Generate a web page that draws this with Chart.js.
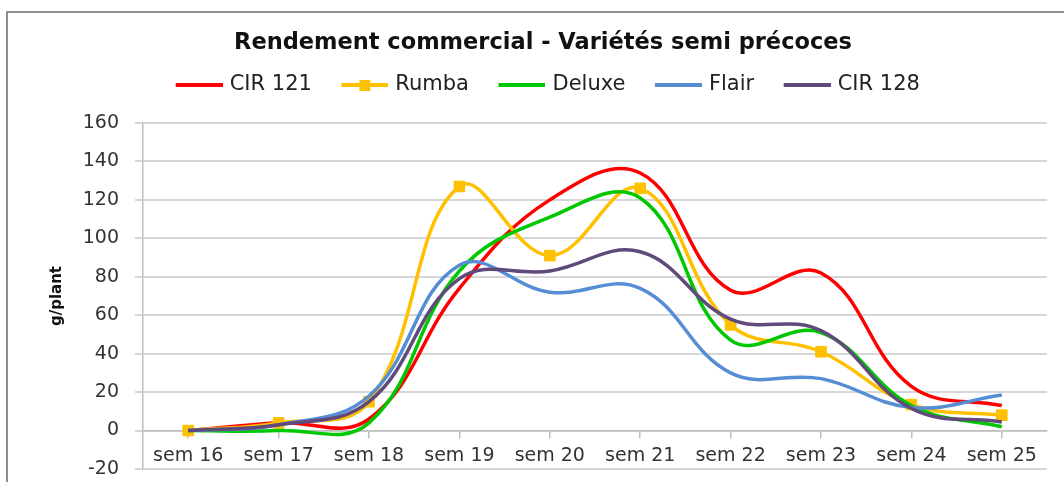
<!DOCTYPE html>
<html>
<head>
<meta charset="utf-8">
<script src="https://cdn.jsdelivr.net/npm/chart.js@4/dist/chart.umd.min.js"></script>
<style>
	html, body { margin: 0; padding: 0; background: #fff; overflow: hidden; }
	#wrap { position: relative; width: 1064px; height: 482px; overflow: hidden; }
	#frame { position: absolute; left: 6px; top: 11px; width: 1056px; height: 469px;
		border-left: 2px solid #8e8e8e; border-top: 2px solid #8e8e8e; }
	#myChart { position: absolute; left: 0; top: 0; }
</style>
</head>
<body>
<div id="wrap">
<div id="frame"></div>
<canvas id="myChart" width="1064" height="482"></canvas>
</div>
<script>
	var weeks = [ 'sem 16', 'sem 17', 'sem 18', 'sem 19', 'sem 20', 'sem 21', 'sem 22', 'sem 23', 'sem 24', 'sem 25' ];
	var cir121 = [ 0, 4, 6, 74, 120, 134, 73, 82, 23, 13 ];
	var rumba = [ 0, 4, 15, 127, 91, 126, 55, 41, 13.5, 8 ];
	var deluxe = [ 0, 0, 4, 83, 111, 121, 47, 51, 13, 2 ];
	var flair = [ 0, 3, 18, 86, 72, 74, 30, 27, 12, 18.5 ];
	var cir128 = [ 0, 3, 15, 79, 83, 93, 58, 52, 11.5, 4.5 ];
	var yTicks = [ -20, 0, 20, 40, 60, 80, 100, 120, 140, 160 ];

	var colors = [ '#ff0000', '#ffc000', '#00c800', '#558ed5', '#604a7b' ];

	Chart.defaults.font.family = 'DejaVu Sans';
	Chart.defaults.color = '#333';

	// legend icons: a line, and a line with a square for Rumba
	function makeIcon(color, marker) {
		var c = document.createElement('canvas');
		c.width = 60;
		c.height = 14;
		var g = c.getContext('2d');
		g.strokeStyle = color;
		g.lineWidth = 4;
		g.beginPath();
		g.moveTo(13, 7);
		g.lineTo(60, 7);
		g.stroke();
		if (marker) {
			g.fillStyle = color;
			g.fillRect(31, 2, 11, 11);
		}
		return c;
	}
	var icons = colors.map(function(c, i) { return makeIcon(c, i == 1); });

	function line(label, data, i, order) {
		return {
			label : label,
			data : data,
			xAxisID : 'x',
			borderColor : colors[i],
			backgroundColor : colors[i],
			borderWidth : 3.5,
			tension : 0.4,
			pointRadius : i == 1 ? 7.5 : 0,
			pointStyle : 'rect',
			pointBackgroundColor : colors[i],
			pointBorderColor : colors[i],
			pointBorderWidth : 1,
			order : order
		};
	}

	var ctx = document.getElementById('myChart');
	var myChart = new Chart(ctx, {
		type : 'line',
		data : {
			labels : weeks,
			datasets : [
				line('CIR 121', cir121, 0, 5),
				line('Rumba', rumba, 1, 4),
				line('Deluxe', deluxe, 2, 3),
				line('Flair', flair, 3, 2),
				line('CIR 128', cir128, 4, 1)
			]
		},
		options : {
			responsive : false,
			animation : false,
			layout : { padding : { left : 39, right : 17, top : 0, bottom : 13 } },
			plugins : {
				tooltip : { enabled : false },
				title : {
					display : true,
					text : 'Rendement commercial - Variétés semi précoces',
					color : '#111',
					font : { size : 22.5, weight : 'bold' },
					padding : { top : 29.5, bottom : -2 }
				},
				legend : {
					display : true,
					labels : {
						usePointStyle : true,
						pointStyleWidth : 53,
						padding : 20,
						color : '#222',
						font : { size : 21 },
						generateLabels : function(chart) {
							var items = Chart.defaults.plugins.legend.labels.generateLabels(chart);
							items.sort(function(a, b) { return a.datasetIndex - b.datasetIndex; });
							items.forEach(function(it) { it.pointStyle = icons[it.datasetIndex]; });
							return items;
						}
					}
				}
			},
			scales : {
				x : {
					type : 'category',
					position : { y : 0 },
					offset : true,
					grid : { drawOnChartArea : false, drawTicks : true, tickLength : 7, color : '#bfbfbf', lineWidth : 1.5 },
					border : { display : true, color : '#bfbfbf', width : 1.5 },
					ticks : { font : { size : 19 }, padding : 7, maxRotation : 0 },
					afterFit : function(s) { s.height = 0; }
				},
				xTop : {
					type : 'category',
					position : 'top',
					display : true,
					grid : { display : false },
					border : { display : false },
					ticks : { display : false },
					afterFit : function(s) { s.height = 17.5; }
				},
				y : {
					min : -20,
					max : 160,
					afterBuildTicks : function(s) { s.ticks = yTicks.map(function(v) { return { value : v }; }); },
					grid : { color : '#d6d6d6', lineWidth : 2, tickLength : 8 },
					border : { display : true, color : '#bfbfbf', width : 1.5 },
					ticks : { font : { size : 19 }, padding : 16 },
					title : {
						display : true,
						text : 'g/plant',
						color : '#111',
						font : { size : 15, weight : 'bold' },
						padding : { top : 9, bottom : 0 }
					},
					afterFit : function(s) {
						s.width = 104;
						s.paddingTop = 0;
						s.paddingBottom = 0;
					}
				}
			}
		}
	});
</script>
</body>
</html>
